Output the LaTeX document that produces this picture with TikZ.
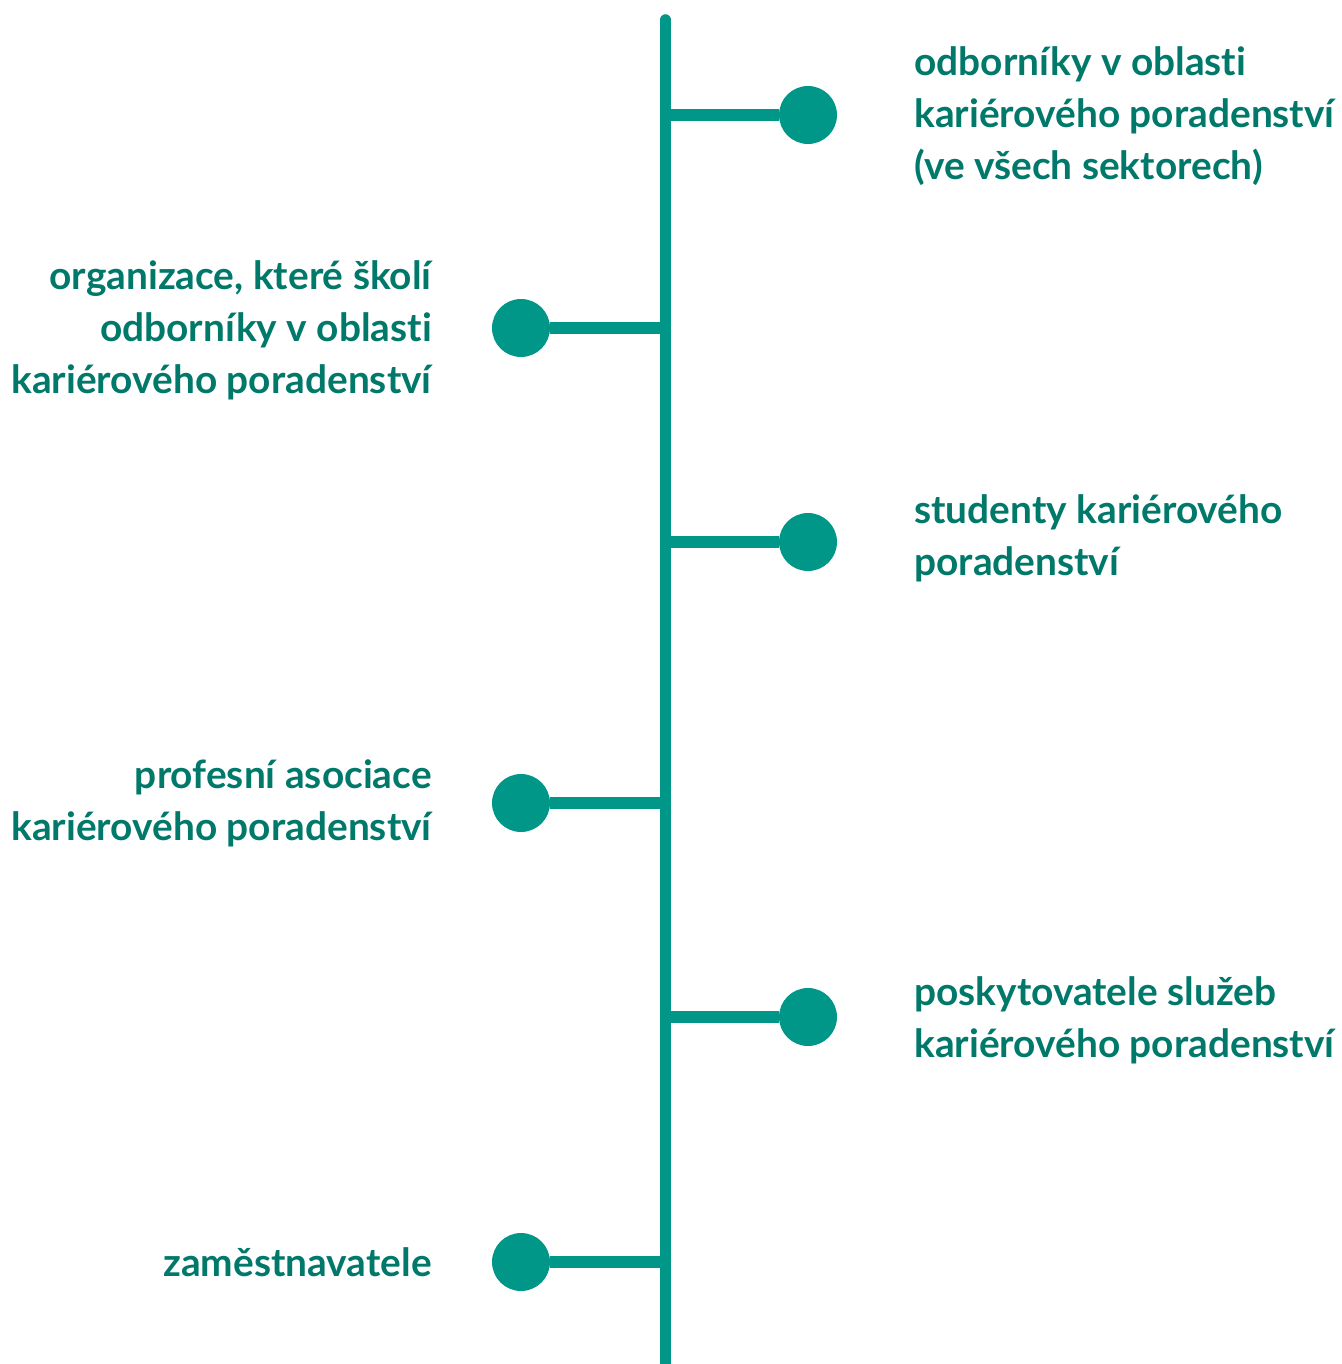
\documentclass[tikz,border=0pt]{standalone}
\usepackage{fontspec}
\setmainfont{Lato}[Ligatures=NoCommon]
\usetikzlibrary{positioning}
\definecolor{spinecol}{HTML}{009688}
\definecolor{labelcol}{HTML}{00796B}
\tikzset{
  spine/.style={line width=0.23cm, spinecol, line cap=round},
  twig/.style={line width=0.24cm, spinecol},
  dot/.style={circle, fill=spinecol, minimum size=1.16cm, inner sep=0pt},
  lbl/.style={text=labelcol, font=\fontsize{22.1pt}{29.6pt}\selectfont\bfseries, inner sep=0pt},
  rlbl/.style={lbl, anchor=west, align=left},
  llbl/.style={lbl, anchor=east, align=right}
}
\begin{document}
\begin{tikzpicture}[x=0.02cm, y=-0.02cm]
      \useasboundingbox (0, 0) rectangle (1341, 1364);

      % Spine
      \coordinate (top) at (665.5, 20);
      \coordinate (bot) at (665.5, 1380);
      \draw[spine] (top) -- (bot);

      % Right branches
      \coordinate (s1) at (665.5,  115);
      \coordinate (s3) at (665.5,  542);
      \coordinate (s5) at (665.5, 1017);
      \node[dot] (d1) at (808,  115) {};
      \node[dot] (d3) at (808,  542) {};
      \node[dot] (d5) at (808, 1017) {};
      \draw[twig] (s1) -- (d1);
      \draw[twig] (s3) -- (d3);
      \draw[twig] (s5) -- (d5);

      % Left branches
      \coordinate (s2) at (665.5,  328);
      \coordinate (s4) at (665.5,  803);
      \coordinate (s6) at (665.5, 1262);
      \node[dot] (d2) at (521,  328) {};
      \node[dot] (d4) at (521,  803) {};
      \node[dot] (d6) at (521, 1262) {};
      \draw[twig] (d2) -- (s2);
      \draw[twig] (d4) -- (s4);
      \draw[twig] (d6) -- (s6);

      % Right labels
      \node[rlbl] (t1) at (914,  116)
        {odborníky v oblasti\\kariérového poradenství\\(ve všech sektorech)};
      \node[rlbl] (t3) at (914,  538) {studenty kariérového\\poradenství};
      \node[rlbl] (t5) at (914, 1020) {poskytovatele služeb\\kariérového poradenství};

      % Left labels
      \node[llbl] (t2) at (432,  330)
        {organizace, které školí\\odborníky v oblasti\\kariérového poradenství};
      \node[llbl] (t4) at (432,  803) {profesní asociace\\kariérového poradenství};
      \node[llbl] (t6) at (432, 1262) {zaměstnavatele};
    \end{tikzpicture}
\end{document}
